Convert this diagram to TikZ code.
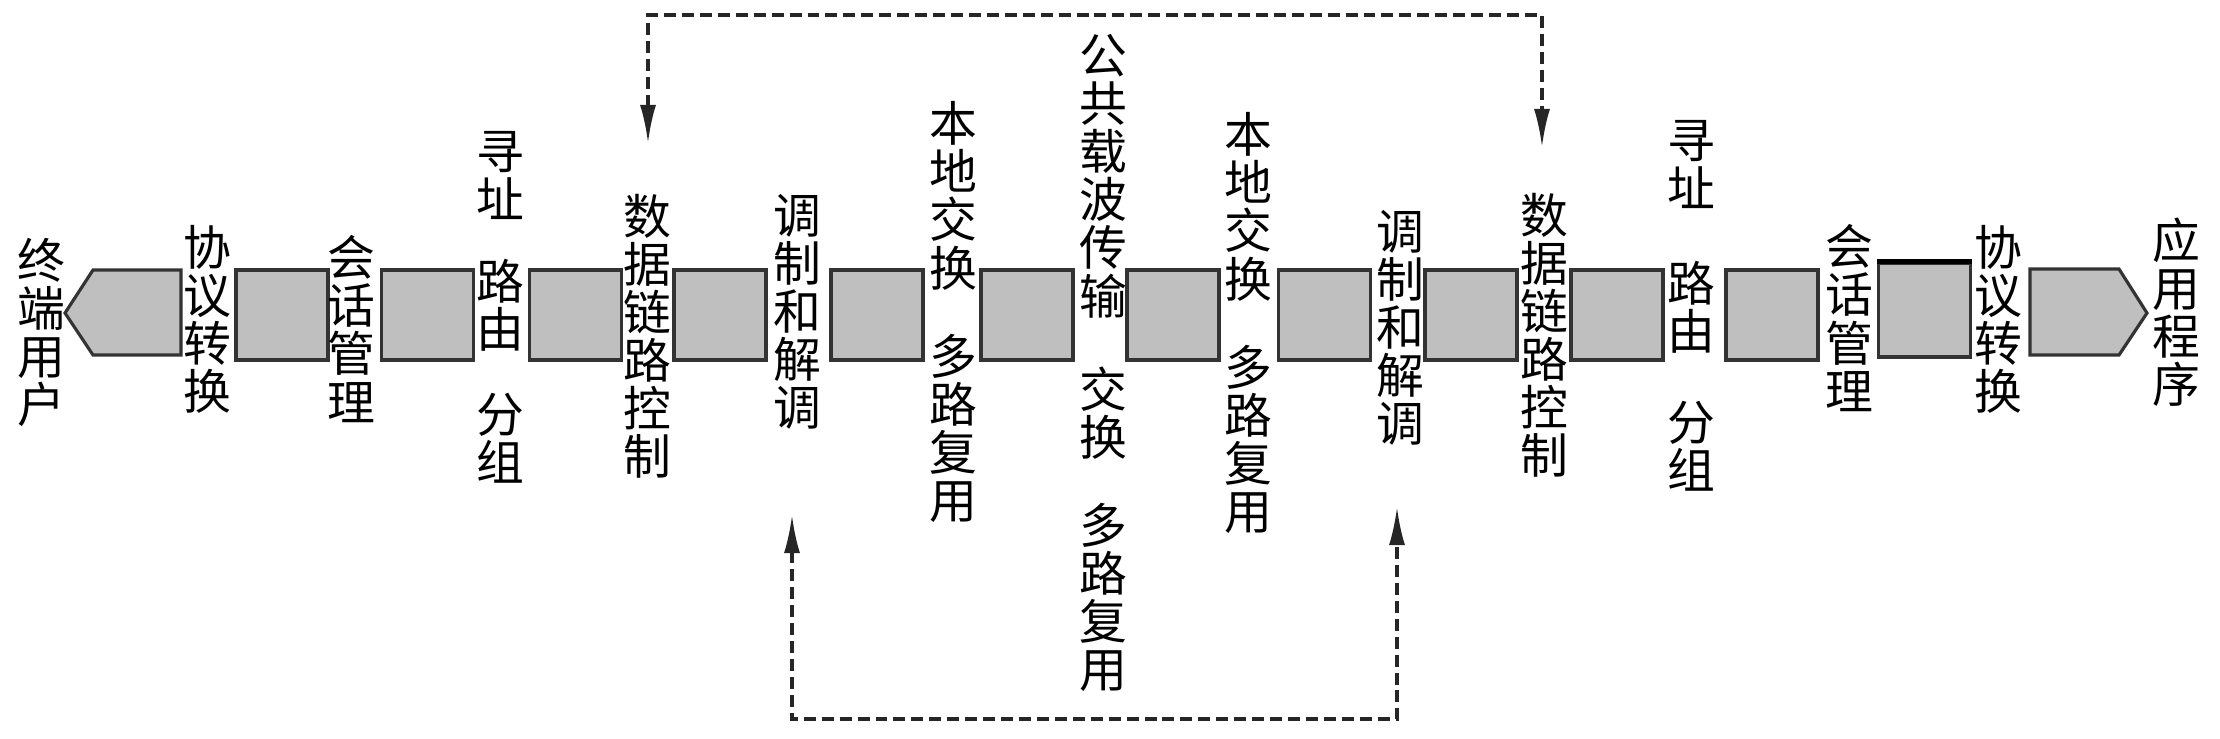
\documentclass[tikz,border=0pt]{standalone}
\usepackage{fontspec}
\newfontfamily\cjk{Noto Sans CJK SC}
\usetikzlibrary{arrows.meta}

\begin{document}
\begin{tikzpicture}[x=0.01cm,y=-0.01cm,
    link/.style={draw=black!85, line width=0.9pt, dash pattern=on 3.4pt off 1.7pt,
      {Latex[length=0.38cm,width=0.16cm]}-{Latex[length=0.38cm,width=0.16cm]}}]

      \useasboundingbox (0,0) rectangle (2220,738);

      \begin{scope}[every node/.style={draw=black!80, fill=black!25, line width=0.9pt,
          minimum width=0.92cm, minimum height=0.9cm, inner sep=0pt}]
        \node (1)  at (282,315)    {};
        \node (2)  at (427.5,315)  {};
        \node (3)  at (575.5,315)  {};
        \node (4)  at (720,315)    {};
        \node (5)  at (877,315)    {};
        \node (6)  at (1027,315)   {};
        \node (7)  at (1173,315)   {};
        \node (8)  at (1324.5,315) {};
        \node (9)  at (1471,315)   {};
        \node (10) at (1617,315)   {};
        \node (11) at (1772,315)   {};
        \node[minimum height=0.94cm] (12) at (1924.5,310) {};
      \end{scope}
      \draw[line width=1.6pt] (12.north west) -- (12.north east);

      % end pieces
      \filldraw[draw=black!80, fill=black!25, line width=0.9pt]
        (65,313) -- (93,270) -- (181,270) -- (181,355) -- (93,355) -- cycle;
      \filldraw[draw=black!80, fill=black!25, line width=0.9pt]
        (2030,269) -- (2119,269) -- (2147,313) -- (2119,355) -- (2030,355) -- cycle;

      \begin{scope}[every node/.style={align=center, inner sep=0pt,
          font=\cjk\fontsize{13.6pt}{13.66pt}\selectfont}]
        \node (t0)  at (41,332)   {终\\端\\用\\户};
        \node (t1)  at (207,319)  {协\\议\\转\\换};
        \node (t2)  at (351,329)  {会\\话\\管\\理};
        \node (t3)  at (500,307)  {寻\\址\\[0.34cm]路\\由\\[0.37cm]分\\组};
        \node (t4)  at (647,336)  {数\\据\\链\\路\\控\\制};
        \node (t5)  at (797,312)  {调\\制\\和\\解\\调};
        \node (t6)  at (953,312)  {本\\地\\交\\换\\[0.4cm]多\\路\\复\\用};
        \node (t7)  at (1103,363) {公\\共\\载\\波\\传\\输\\[0.45cm]交\\换\\[0.4cm]多\\路\\复\\用};
        \node (t8)  at (1248,323) {本\\地\\交\\换\\[0.4cm]多\\路\\复\\用};
        \node (t9)  at (1400,328) {调\\制\\和\\解\\调};
        \node (t10) at (1544,335) {数\\据\\链\\路\\控\\制};
        \node (t11) at (1691,306) {寻\\址\\[0.47cm]路\\由\\[0.43cm]分\\组};
        \node (t12) at (1849,318) {会\\话\\管\\理};
        \node (t13) at (1998,319) {协\\议\\转\\换};
        \node (t14) at (2176,312) {应\\用\\程\\序};
      \end{scope}

      \coordinate (ta) at (648,143);
      \coordinate (tb) at (1542,147);
      \coordinate (ba) at (792,515);
      \coordinate (bb) at (1397,507);

      \draw[link] (ta) -- (ta |- 0,15) -- (tb |- 0,15) -- (tb);
      \draw[link] (ba) -- (ba |- 0,719) -- (bb |- 0,719) -- (bb);

    \end{tikzpicture}
\end{document}
